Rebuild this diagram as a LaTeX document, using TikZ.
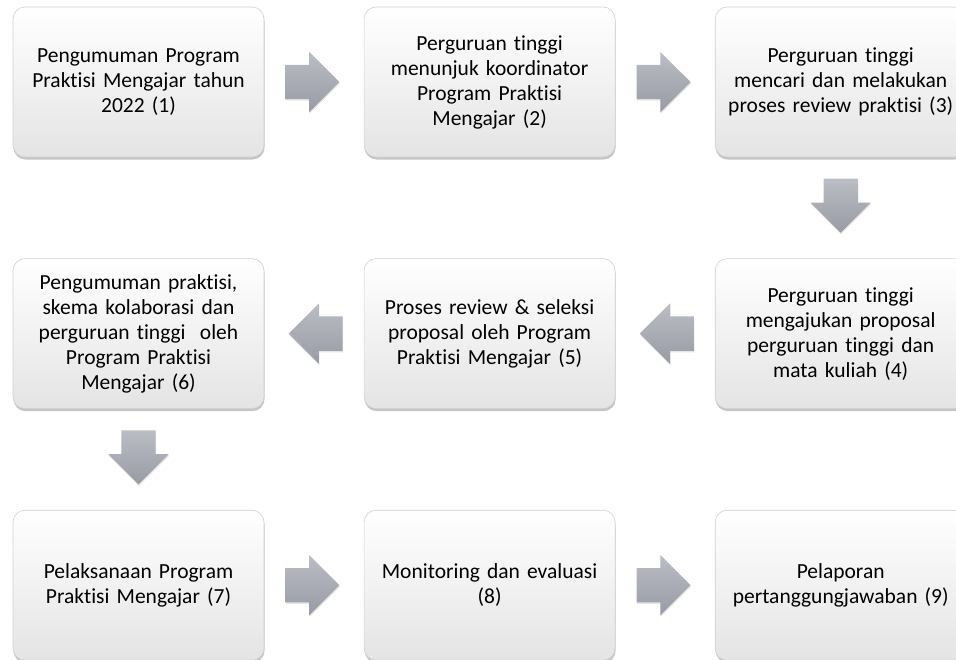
\documentclass[tikz,border=0pt]{standalone}
\usepackage{fontspec}
\setmainfont{Carlito}[Ligatures=NoCommon]
\usetikzlibrary{shapes.arrows, positioning, calc, shadows}
\definecolor{boxline}{RGB}{208,208,208}
\definecolor{boxtop}{RGB}{255,255,255}
\definecolor{boxbot}{RGB}{228,228,228}
\definecolor{arrtop}{RGB}{186,189,196}
\definecolor{arrbot}{RGB}{152,155,163}
\tikzset{
  stepbox/.style={rectangle, draw=boxline, top color=boxtop, bottom color=boxbot,
    text width=240pt, inner xsep=5.5pt, inner ysep=0pt, minimum height=150pt,
    align=center, rounded corners=12pt, line width=0.6pt,
    font=\fontsize{21.5}{25}\selectfont,
    drop shadow={shadow xshift=0.5pt, shadow yshift=-2.5pt, opacity=0.5, fill=black!45}},
  blockarrow/.style={single arrow, draw=none, top color=arrtop, bottom color=arrbot,
    minimum height=54pt, inner sep=17pt, single arrow head extend=13pt,
    single arrow head indent=0pt, anchor=tail,
    drop shadow={shadow xshift=0.5pt, shadow yshift=-1.5pt, opacity=0.25, fill=black!40}}
}

\begin{document}
\begin{tikzpicture}[x=1pt, y=1pt, node distance=101pt and 99.5pt]
  \clip (0,0) rectangle (956,-659);

  % first row
  \node[stepbox] (s1) at (138.5,-82) {Pengumuman Program\\Praktisi Mengajar tahun\\2022 (1)};
  \node[stepbox, right=of s1] (s2) {Perguruan tinggi\\menunjuk koordinator\\Program Praktisi\\Mengajar (2)};
  \node[stepbox, right=of s2] (s3) {Perguruan tinggi\\mencari dan melakukan\\proses review praktisi (3)};

  % second row
  \node[stepbox, below=of s3] (s4) {Perguruan tinggi\\mengajukan proposal\\perguruan tinggi dan\\mata kuliah (4)};
  \node[stepbox, left=of s4] (s5) {Proses review \& seleksi\\proposal oleh Program\\Praktisi Mengajar (5)};
  \node[stepbox, left=of s5] (s6) {Pengumuman praktisi,\\skema kolaborasi dan\\perguruan tinggi\ \ oleh\\Program Praktisi\\Mengajar (6)};

  % third row
  \node[stepbox, below=of s6] (s7) {Pelaksanaan Program\\Praktisi Mengajar (7)};
  \node[stepbox, right=of s7] (s8) {Monitoring dan evaluasi\\(8)};
  \node[stepbox, right=of s8] (s9) {Pelaporan\\pertanggungjawaban (9)};

  % block arrows
  \node[blockarrow] (a12) at ($(s1.east)!0.21!(s2.west)$) {};
  \node[blockarrow] (a23) at ($(s2.east)!0.21!(s3.west)$) {};
  \node[blockarrow, shape border rotate=270] (a34) at ($(s3.south)!0.21!(s4.north)$) {};
  \node[blockarrow, shape border rotate=180] (a45) at ($(s4.west)!0.21!(s5.east)$) {};
  \node[blockarrow, shape border rotate=180] (a56) at ($(s5.west)!0.21!(s6.east)$) {};
  \node[blockarrow, shape border rotate=270] (a67) at ($(s6.south)!0.21!(s7.north)$) {};
  \node[blockarrow] (a78) at ($(s7.east)!0.21!(s8.west)$) {};
  \node[blockarrow] (a89) at ($(s8.east)!0.21!(s9.west)$) {};
\end{tikzpicture}
\end{document}
